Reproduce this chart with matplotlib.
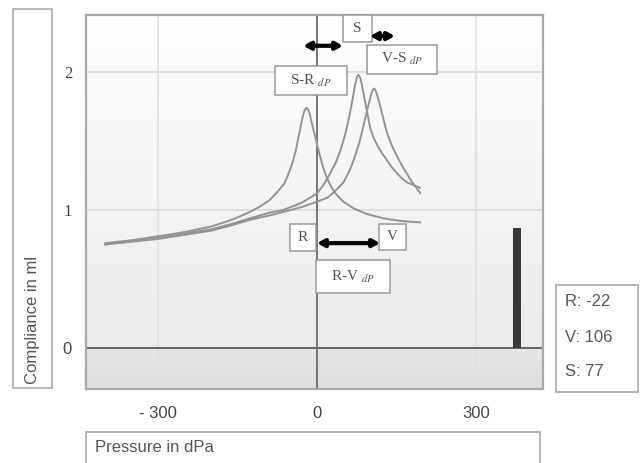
import numpy as np
import matplotlib
matplotlib.use('Agg')
import matplotlib.pyplot as plt
from matplotlib.patches import Rectangle
from matplotlib.colors import LinearSegmentedColormap

W, H = 641, 463

# tympanogram curves (pressure in daPa, compliance in ml)
pressure_R = [-400, -350, -300, -250, -200, -160, -130, -110, -90, -75, -62, -56, -50, -45, -40, -36,
              -32, -29, -26, -23, -20, -17, -14, -11, -8, -4, 0, 5, 10, 15, 20, 28, 35, 42, 50, 60,
              70, 82, 95, 110, 125, 142, 160, 178, 195]
compliance_R = [0.75, 0.78, 0.81, 0.84, 0.88, 0.93, 0.98, 1.02, 1.07, 1.13, 1.19, 1.24, 1.30, 1.36, 1.43, 1.51,
                1.58, 1.64, 1.69, 1.725, 1.74, 1.73, 1.70, 1.65, 1.60, 1.54, 1.48, 1.40, 1.33, 1.27, 1.22, 1.16, 1.12, 1.09, 1.06, 1.035,
                1.01, 0.99, 0.97, 0.955, 0.94, 0.93, 0.92, 0.915, 0.91]

pressure_S = [-400, -350, -300, -250, -200, -160, -126, -90, -64, -30, 0, 12, 24, 35, 44, 52, 60,
              64, 68, 71, 74, 76, 78, 80, 83, 86, 90, 95, 100, 107, 115, 123, 132, 141, 150, 160,
              170, 182, 195]
compliance_S = [0.76, 0.78, 0.80, 0.83, 0.86, 0.90, 0.94, 0.98, 1.00, 1.05, 1.12, 1.18, 1.26, 1.34, 1.43, 1.53, 1.66,
                1.74, 1.82, 1.89, 1.94, 1.97, 1.98, 1.97, 1.94, 1.88, 1.80, 1.70, 1.60, 1.52, 1.46, 1.41, 1.36, 1.31, 1.27, 1.23,
                1.20, 1.18, 1.16]

pressure_V = [-400, -350, -300, -250, -200, -160, -126, -90, -60, -30, 0, 20, 35, 50, 62, 70, 80,
              87, 92, 97, 101, 104, 106, 108, 110, 113, 116, 120, 126, 132, 140, 147, 155, 162, 170,
              178, 186, 195]
compliance_V = [0.75, 0.77, 0.79, 0.82, 0.85, 0.89, 0.93, 0.96, 0.99, 1.02, 1.06, 1.09, 1.14, 1.20, 1.29, 1.37, 1.49,
                1.60, 1.68, 1.76, 1.82, 1.86, 1.875, 1.88, 1.87, 1.84, 1.80, 1.74, 1.65, 1.56, 1.48, 1.42, 1.36, 1.31, 1.26,
                1.21, 1.17, 1.12]

volume_pressure = 378
volume = 0.87

peak_labels = ['R: -22', 'V: 106', 'S: 77']
xticks = [-300, 0, 300]
xticklabels = ['- 300', '0', '300']
yticks = [0, 1, 2]
yticklabels = ['0', '1', '2']

SANS = 'Liberation Sans'
SERIF = 'Liberation Serif'
plt.rcParams['mathtext.fontset'] = 'stix'


def fx(px):
    return px / W


def fy(py):
    return 1 - py / H


fig = plt.figure(figsize=(W / 100, H / 100), dpi=100)
ax = fig.add_axes([fx(86), fy(389), (543 - 86) / W, (389 - 15) / H])
xmin, xmax = -435.8, 426.4
ymin, ymax = -0.297, 2.413
ax.set_xlim(xmin, xmax)
ax.set_ylim(ymin, ymax)

# background: white to light gray above zero, gray band below
cm = LinearSegmentedColormap.from_list('bg', ['#ebebeb', '#ffffff'])
grad = np.linspace(0, 1, 256).reshape(-1, 1)
ax.imshow(grad, cmap=cm, aspect='auto', extent=[xmin, xmax, 0, ymax], origin='lower', zorder=0)
cm2 = LinearSegmentedColormap.from_list('bg2', ['#dedede', '#e6e6e6'])
ax.imshow(grad, cmap=cm2, aspect='auto', extent=[xmin, xmax, ymin, 0], origin='lower', zorder=0)

for g in [1, 2]:
    ax.axhline(g, color='#d9d9d9', lw=1.2, zorder=1)
for g in [-300, 300]:
    ax.axvline(g, color='#e0e0e0', lw=1.2, zorder=1)
ax.axhline(0, color='#5a5a5a', lw=1.3, zorder=2)
ax.axvline(0, color='#6a6a6a', lw=1.3, zorder=2)

for p, c in [(pressure_R, compliance_R), (pressure_S, compliance_S), (pressure_V, compliance_V)]:
    ax.plot(p, c, color='#939393', lw=1.4, zorder=3, solid_joinstyle='round', solid_capstyle='round')

ax.bar([volume_pressure], [volume], width=15, color='#383838', zorder=3)

ax.set_xticks(xticks)
ax.set_xticklabels(xticklabels, fontfamily=SANS, fontsize=12, color='#444444')
ax.set_yticks(yticks)
ax.set_yticklabels(yticklabels, fontsize=12, color='#444444')
for lab in ax.get_yticklabels():
    lab.set_fontfamily(SANS if lab.get_text() == '0' else SERIF)
ax.tick_params(length=0)
ax.tick_params(axis='x', pad=12)
ax.tick_params(axis='y', pad=10)
for s in ax.spines.values():
    s.set_color('#a9a9a9')
    s.set_linewidth(1.6)


def box(x0, x1, y0, y1, text, sub=None):
    ax.add_patch(Rectangle((x0, y0), x1 - x0, y1 - y0, fc='white', ec='#9a9a9a', lw=1.1,
                           zorder=5, clip_on=False))
    cx = (x0 + x1) / 2
    cy = (y0 + y1) / 2
    if sub:
        ax.text(cx, cy, text + r' $_{\mathit{' + sub + '}}$', ha='center', va='center',
                fontfamily=SERIF, fontsize=11, color='#555555', zorder=6)
    else:
        ax.text(cx, cy, text, ha='center', va='center', fontfamily=SERIF, fontsize=11,
                color='#555555', zorder=6)


def arrow(x0, x1, y):
    ax.annotate('', xy=(x1, y), xytext=(x0, y), zorder=7,
                arrowprops=dict(arrowstyle='<|-|>,head_length=0.4,head_width=0.22', lw=3,
                                color='black', shrinkA=0, shrinkB=0))


box(49.1, 103.8, 2.217, 2.413, 'S')
box(94.3, 226.4, 1.986, 2.196, 'V-S', 'dP')
box(-79.2, 56.6, 1.833, 2.043, 'S-R', 'dP')
box(-50.9, -1.9, 0.703, 0.899, 'R')
box(117.0, 167.9, 0.710, 0.899, 'V')
box(-1.9, 137.7, 0.399, 0.638, 'R-V', 'dP')

arrow(-26, 49, 2.19)
arrow(100, 147, 2.26)
arrow(0, 119, 0.76)


def figbox(px0, px1, py0, py1):
    fig.patches.append(Rectangle((fx(px0), fy(py1)), (px1 - px0) / W, (py1 - py0) / H,
                                 transform=fig.transFigure, fc='white', ec='#b0b0b0', lw=1.3))


figbox(13, 52, 9, 388)
fig.text(fx(33), fy(384), 'Compliance in ml', rotation=90, rotation_mode='anchor',
         ha='left', va='center', fontfamily=SANS, fontsize=12, color='#555555')

figbox(86, 540, 432, 470)
fig.text(fx(95), fy(448), 'Pressure in dPa', ha='left', va='center', fontfamily=SANS,
         fontsize=12, color='#555555')

figbox(556, 638, 285, 392)
for i, lab in enumerate(peak_labels):
    fig.text(fx(565), fy(302 + 35 * i), lab, ha='left', va='center', fontfamily=SANS,
             fontsize=12, color='#555555')

fig.savefig('out.png', dpi=100)
